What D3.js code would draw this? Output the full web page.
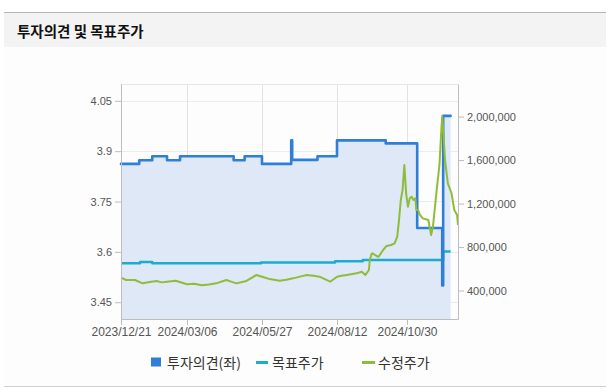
<!DOCTYPE html>
<html>
<head>
<meta charset="utf-8">
<script src="https://cdn.jsdelivr.net/npm/d3@7"></script>
<style>
  html, body { margin: 0; padding: 0; background: #fff; }
  svg { display: block; }
</style>
</head>
<body>
<svg id="chart"></svg>
<script>
// 투자의견 (left axis) - step values
const opinionDates = ['2023-12-21','2024-01-11','2024-01-26','2024-02-12','2024-02-27','2024-04-26','2024-05-08','2024-05-27',
  '2024-06-26','2024-06-27','2024-07-23','2024-08-12','2024-10-06','2024-11-10','2024-12-07','2024-12-08','2024-12-16'];
const opinionValues = [3.862, 3.873, 3.885, 3.873, 3.885, 3.873, 3.885, 3.862,
  3.932, 3.874, 3.885, 3.932, 3.923, 3.671, 3.50, 4.005, 4.005];

// 목표주가 (right axis)
const targetDates = ['2023-12-21','2024-01-12','2024-01-26','2024-05-26','2024-08-10','2024-09-10','2024-12-08','2024-12-16'];
const targetValues = [650000, 662000, 650000, 657000, 669000, 681000, 760000, 760000];

// 수정주가 (right axis)
const priceDates = ['2023-12-21','2023-12-27','2024-01-06','2024-01-15','2024-01-23','2024-01-31','2024-02-06','2024-02-12','2024-02-22','2024-03-06',
  '2024-03-14','2024-03-22','2024-03-30','2024-04-07','2024-04-18','2024-04-24','2024-04-29','2024-05-10','2024-05-21','2024-05-27','2024-06-04','2024-06-14',
  '2024-06-21','2024-06-28','2024-07-06','2024-07-12','2024-07-19','2024-07-25','2024-08-05','2024-08-12','2024-08-17','2024-08-23','2024-09-03','2024-09-09','2024-09-13',
  '2024-09-17','2024-09-18','2024-09-20','2024-09-21','2024-09-27','2024-09-28','2024-10-03','2024-10-07','2024-10-12',
  '2024-10-16','2024-10-19','2024-10-21','2024-10-23','2024-10-25','2024-10-27','2024-10-29','2024-10-31','2024-11-02',
  '2024-11-04','2024-11-06','2024-11-08','2024-11-09','2024-11-11','2024-11-13','2024-11-16','2024-11-22','2024-11-25',
  '2024-11-27','2024-12-01','2024-12-04','2024-12-06','2024-12-07','2024-12-08','2024-12-10','2024-12-13','2024-12-17',
  '2024-12-20','2024-12-23','2024-12-24'];
const priceValues = [518000, 497000, 497000, 466000, 478000, 488000, 475000, 481000, 490000, 457000,
  462000, 448000, 455000, 466000, 497000, 480000, 466000, 488000, 543000, 527000, 505000, 490000,
  500000, 512000, 530000, 543000, 535000, 527000, 481000, 527000, 535000, 543000, 558000, 573000, 543000,
  589000, 681000, 736000, 742000, 711000, 711000, 773000, 810000, 819000,
  834000, 895000, 1049000, 1233000, 1325000, 1555000, 1294000, 1171000, 1248000,
  1263000, 1233000, 1248000, 1141000, 1141000, 1095000, 1064000, 1049000, 911000,
  987000, 1325000, 1555000, 1877000, 2006000, 1877000, 1601000, 1386000, 1295000,
  1141000, 1095000, 1003000];

const xTickDates = ['2023-12-21','2024-03-06','2024-05-27','2024-08-12','2024-10-30'];
const xTickLabels = ['2023/12/21','2024/03/06','2024/05/27','2024/08/12','2024/10/30'];
const leftTicks = [3.45, 3.6, 3.75, 3.9, 4.05];
const rightTicks = [400000, 800000, 1200000, 1600000, 2000000];
const legendLabels = ['투자의견(좌)', '목표주가', '수정주가'];

const W = 610, H = 392;
const plot = {left: 121, right: 458, top: 84, bottom: 319};
const colors = {opinion: '#2f7ed8', fill: '#dce7f7', target: '#1aadce', price: '#8fbc3a'};
const parse = d3.timeParse('%Y-%m-%d');

const svg = d3.select('#chart').attr('width', W).attr('height', H);

// page frame
svg.append('rect').attr('x', 0).attr('y', 0).attr('width', W).attr('height', H).attr('fill', '#fff');
svg.append('rect').attr('x', 4).attr('y', 12).attr('width', 602).attr('height', 374).attr('fill', '#fdfdfd');
svg.append('rect').attr('x', 4).attr('y', 12).attr('width', 602).attr('height', 35).attr('fill', '#f3f3f3');
svg.append('line').attr('x1', 4).attr('x2', 606).attr('y1', 12.5).attr('y2', 12.5)
  .attr('stroke', '#b5b5b5').attr('stroke-width', 1);
svg.append('line').attr('x1', 4).attr('x2', 606).attr('y1', 386.5).attr('y2', 386.5)
  .attr('stroke', '#d0d0d0').attr('stroke-width', 1);
svg.append('text')
  .attr('x', 17).attr('y', 37)
  .style('font-family', '"Noto Sans CJK KR", "Noto Sans", sans-serif')
  .style('font-size', '14.5px').style('font-weight', 'bold')
  .attr('fill', '#111')
  .text('투자의견 및 목표주가');

// scales (piecewise time scale to follow the uneven tick spacing)
const x = d3.scaleTime()
  .domain([...xTickDates.map(parse), parse('2024-12-24')])
  .range([121, 187, 262, 337, 407, plot.right]);
const yL = d3.scaleLinear().domain([3.4, 4.1]).range([plot.bottom, plot.top]);
const yR = d3.scaleLinear().domain([138000, 2300000]).range([plot.bottom, plot.top]);

const opinion = opinionDates.map((d, i) => ({date: parse(d), v: opinionValues[i]}));
const target = targetDates.map((d, i) => ({date: parse(d), v: targetValues[i]}));
const price = priceDates.map((d, i) => ({date: parse(d), v: priceValues[i]}));

const g = svg.append('g');

// grid
g.append('g').selectAll('line').data(leftTicks).enter().append('line')
  .attr('x1', plot.left).attr('x2', plot.right)
  .attr('y1', d => Math.round(yL(d)) + 0.5).attr('y2', d => Math.round(yL(d)) + 0.5)
  .attr('stroke', '#ececec');
g.append('g').selectAll('line').data(xTickDates.slice(1)).enter().append('line')
  .attr('x1', d => Math.round(x(parse(d))) + 0.5).attr('x2', d => Math.round(x(parse(d))) + 0.5)
  .attr('y1', plot.top).attr('y2', plot.bottom)
  .attr('stroke', '#e2e2e2');
g.append('line').attr('x1', plot.left).attr('x2', plot.right).attr('y1', plot.top + 0.5).attr('y2', plot.top + 0.5)
  .attr('stroke', '#e6e6e6');

// opinion area + line
const area = d3.area().curve(d3.curveStepAfter)
  .x(d => x(d.date)).y0(plot.bottom).y1(d => yL(d.v));
g.append('path').datum(opinion).attr('d', area).attr('fill', colors.fill).attr('opacity', 0.95);

const lineL = d3.line().curve(d3.curveStepAfter).x(d => x(d.date)).y(d => yL(d.v));
const lineR = d3.line().x(d => x(d.date)).y(d => yR(d.v));
const lineRStep = d3.line().curve(d3.curveStepAfter).x(d => x(d.date)).y(d => yR(d.v));

g.append('path').datum(target).attr('d', lineRStep)
  .attr('fill', 'none').attr('stroke', colors.target).attr('stroke-width', 2.5)
  .attr('stroke-linejoin', 'round');
g.append('path').datum(opinion).attr('d', lineL)
  .attr('fill', 'none').attr('stroke', colors.opinion).attr('stroke-width', 2.6)
  .attr('stroke-linejoin', 'round').attr('stroke-linecap', 'round');
g.append('path').datum(price).attr('d', lineR)
  .attr('fill', 'none').attr('stroke', colors.price).attr('stroke-width', 2)
  .attr('stroke-linejoin', 'round');

// axes
const tickFont = (sel, size) => sel.selectAll('text')
  .style('font-family', '"Liberation Sans", Arial, sans-serif')
  .style('font-size', size).attr('fill', '#555');
const axisStyle = (sel) => {
  sel.select('.domain').attr('stroke', '#bdbdbd');
  sel.selectAll('.tick line').attr('stroke', '#bdbdbd');
};

const axL = svg.append('g').attr('transform', `translate(${plot.left},0)`)
  .call(d3.axisLeft(yL).tickValues(leftTicks).tickFormat(d3.format('')).tickSize(6).tickSizeOuter(0).tickPadding(3));
axisStyle(axL); tickFont(axL, '11px');

const axR = svg.append('g').attr('transform', `translate(${plot.right},0)`)
  .call(d3.axisRight(yR).tickValues(rightTicks).tickFormat(d3.format(',')).tickSize(6).tickSizeOuter(0).tickPadding(3));
axisStyle(axR); tickFont(axR, '11px');

const axB = svg.append('g').attr('transform', `translate(0,${plot.bottom})`)
  .call(d3.axisBottom(x).tickValues(xTickDates.map(parse))
    .tickFormat((d, i) => xTickLabels[i]).tickSize(6).tickSizeOuter(0).tickPadding(2));
axisStyle(axB); tickFont(axB, '12px');

// legend
const lg = svg.append('g').attr('transform', 'translate(0,362)');
const legendFont = (sel) => sel
  .style('font-family', '"Noto Sans CJK KR", "Noto Sans", sans-serif')
  .style('font-size', '14px').attr('fill', '#333').attr('dominant-baseline', 'central');
lg.append('rect').attr('x', 151).attr('y', -4.5).attr('width', 10).attr('height', 9).attr('fill', colors.opinion);
lg.append('text').attr('x', 167).attr('y', 0).text(legendLabels[0]).call(legendFont);
lg.append('line').attr('x1', 256).attr('x2', 268).attr('y1', 0.5).attr('y2', 0.5)
  .attr('stroke', colors.target).attr('stroke-width', 3);
lg.append('text').attr('x', 272).attr('y', 0).text(legendLabels[1]).call(legendFont);
lg.append('line').attr('x1', 362).attr('x2', 375).attr('y1', 0.5).attr('y2', 0.5)
  .attr('stroke', colors.price).attr('stroke-width', 3);
lg.append('text').attr('x', 378).attr('y', 0).text(legendLabels[2]).call(legendFont);
</script>
</body>
</html>
